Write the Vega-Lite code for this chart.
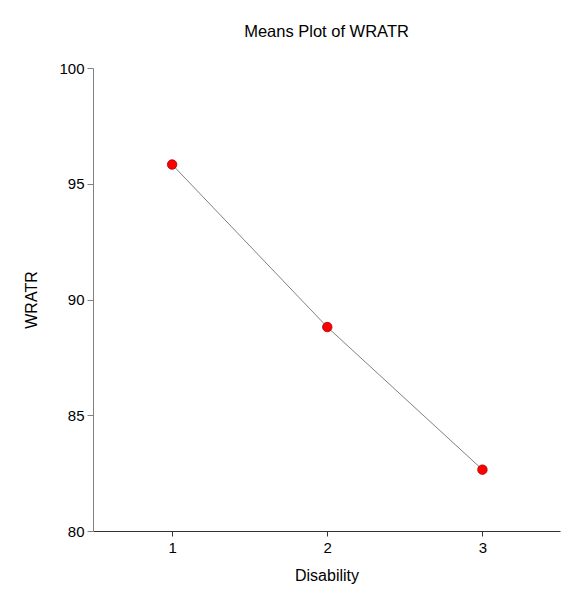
{
  "$schema": "https://vega.github.io/schema/vega-lite/v6.json",
  "autosize": "none",
  "width": 467,
  "height": 463,
  "padding": {"left": 93, "top": 68, "right": 20, "bottom": 74},
  "background": "white",
  "config": {
    "view": {"stroke": null},
    "font": "Liberation Sans"
  },
  "title": {
    "text": "Means Plot of WRATR",
    "fontSize": 16.5,
    "fontWeight": "normal",
    "font": "Liberation Sans",
    "color": "#000000",
    "offset": 21,
    "anchor": "middle"
  },
  "data": {
    "values": [
      {"Disability": 1, "WRATR": 95.83},
      {"Disability": 2, "WRATR": 88.81},
      {"Disability": 3, "WRATR": 82.65}
    ]
  },
  "encoding": {
    "x": {
      "field": "Disability",
      "type": "quantitative",
      "scale": {"domain": [0.49, 3.5], "nice": false, "zero": false},
      "axis": {
        "values": [1, 2, 3],
        "format": "d",
        "grid": false,
        "title": "Disability",
        "titleFontSize": 16,
        "titleFontWeight": "normal",
        "titleColor": "#000000",
        "titlePadding": 12,
        "labelFontSize": 15,
        "labelColor": "#000000",
        "labelPadding": 4,
        "tickSize": 5,
        "tickColor": "#333333",
        "domainColor": "#333333"
      }
    },
    "y": {
      "field": "WRATR",
      "type": "quantitative",
      "scale": {"domain": [80, 100], "nice": false, "zero": false},
      "axis": {
        "values": [80, 85, 90, 95, 100],
        "grid": false,
        "title": "WRATR",
        "titleFontSize": 16,
        "titleFontWeight": "normal",
        "titleColor": "#000000",
        "titlePadding": 19,
        "labelFontSize": 15,
        "labelColor": "#000000",
        "labelPadding": 3,
        "tickSize": 6,
        "tickColor": "#808080",
        "domainColor": "#808080"
      }
    }
  },
  "layer": [
    {
      "mark": {"type": "line", "color": "#808080", "strokeWidth": 1}
    },
    {
      "mark": {"type": "point", "filled": true, "fill": "#ff0000", "stroke": "#a00000", "strokeWidth": 0.8, "opacity": 1, "size": 90}
    }
  ]
}
